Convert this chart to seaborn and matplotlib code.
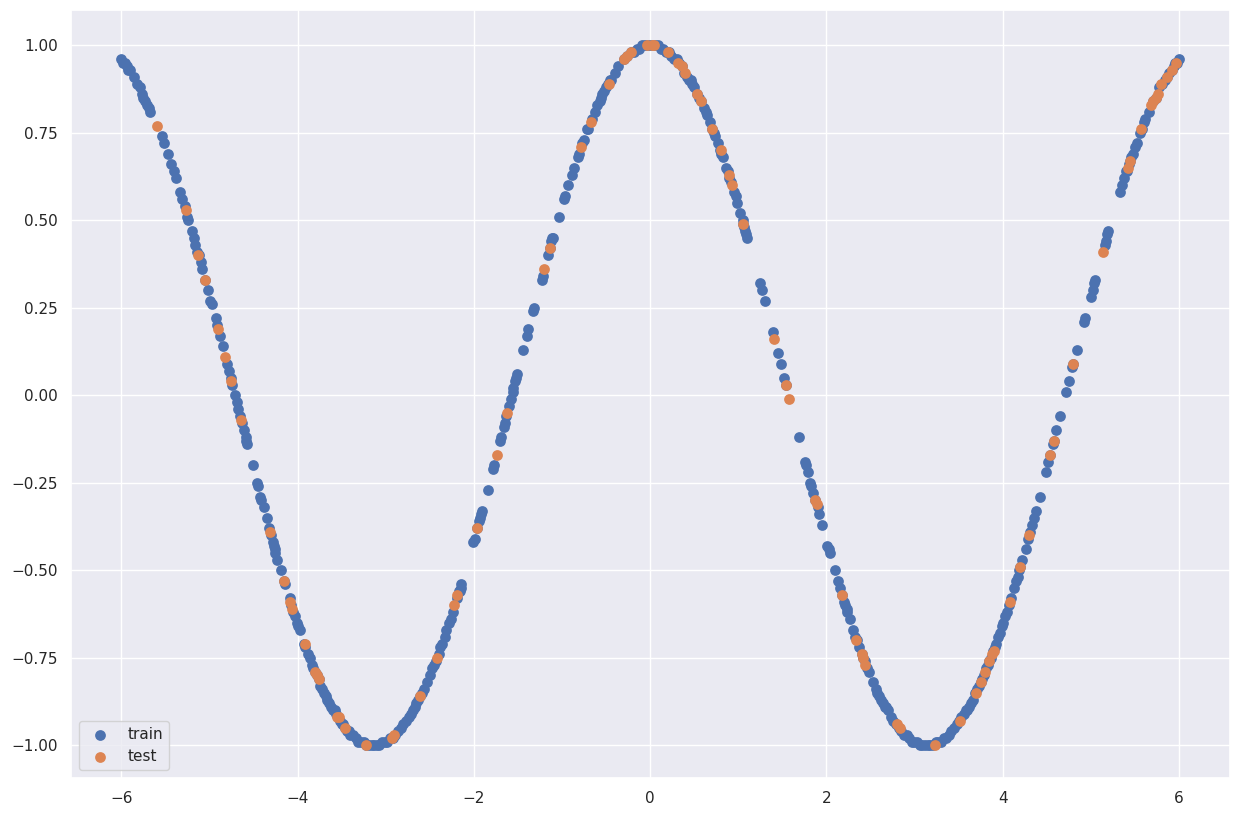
import matplotlib
matplotlib.use("Agg")
import matplotlib.pyplot as plt
import seaborn as sns
import pandas as pd

train_x = [
    -6.00, -5.98, -5.96, -5.94, -5.92, -5.90, -5.86, -5.82, -5.79, -5.77, -5.75, -5.73, -5.71, -5.69, -5.67,
    -5.54, -5.51, -5.47, -5.44, -5.40, -5.38, -5.33, -5.31, -5.28, -5.25, -5.24, -5.20, -5.18, -5.16, -5.14,
    -5.12, -5.10, -5.08, -5.05, -5.02, -4.99, -4.97, -4.93, -4.91, -4.88, -4.85, -4.80, -4.78, -4.76, -4.74,
    -4.71, -4.69, -4.67, -4.65, -4.63, -4.61, -4.59, -4.58, -4.57, -4.51, -4.46, -4.45, -4.42, -4.41, -4.38,
    -4.35, -4.32, -4.30, -4.28, -4.27, -4.26, -4.25, -4.23, -4.19, -4.15, -4.14, -4.09, -4.07, -4.05, -4.03,
    -4.01, -3.99, -3.97, -3.93, -3.91, -3.88, -3.86, -3.84, -3.82, -3.80, -3.78, -3.76, -3.74, -3.72, -3.70,
    -3.68, -3.66, -3.64, -3.62, -3.60, -3.58, -3.56, -3.54, -3.52, -3.50, -3.48, -3.46, -3.44, -3.42, -3.40,
    -3.37, -3.34, -3.31, -3.28, -3.25, -3.22, -3.19, -3.16, -3.13, -3.10, -3.07, -3.04, -3.01, -2.98, -2.95,
    -2.92, -2.89, -2.86, -2.83, -2.80, -2.77, -2.74, -2.71, -2.69, -2.67, -2.65, -2.63, -2.61, -2.59, -2.56,
    -2.53, -2.50, -2.47, -2.45, -2.43, -2.40, -2.38, -2.36, -2.33, -2.31, -2.28, -2.26, -2.24, -2.19, -2.17,
    -2.16, -2.15, -2.14,
    -2.01, -1.99, -1.96, -1.94, -1.93, -1.92, -1.91, -1.84, -1.78, -1.77, -1.70, -1.69, -1.66, -1.65, -1.63,
    -1.60, -1.58, -1.56, -1.55, -1.53, -1.52, -1.51, -1.44, -1.40, -1.38, -1.33, -1.32, -1.23, -1.22, -1.16,
    -1.14, -1.12, -1.11, -1.10, -1.03, -0.98, -0.97, -0.93, -0.89, -0.86, -0.82, -0.81, -0.77, -0.75, -0.71,
    -0.70, -0.66, -0.62, -0.60, -0.57, -0.56, -0.54, -0.52, -0.50, -0.48, -0.46, -0.44, -0.40, -0.36, -0.30,
    -0.26, -0.22, -0.18, -0.15, -0.12, -0.09, -0.06, -0.03, 0.00, 0.03, 0.06, 0.09, 0.12, 0.15, 0.18,
    0.21, 0.24, 0.27, 0.30, 0.33, 0.36, 0.39, 0.42, 0.44, 0.46, 0.48, 0.50, 0.53, 0.56, 0.58,
    0.61, 0.63, 0.65, 0.68, 0.70, 0.72, 0.74, 0.77, 0.79, 0.81, 0.83, 0.86, 0.88, 0.90, 0.92,
    0.95, 0.97, 0.99, 1.02, 1.05, 1.06, 1.07, 1.08, 1.09, 1.10,
    1.25, 1.27, 1.30, 1.39, 1.45, 1.48, 1.52, 1.54,
    1.69, 1.76, 1.77, 1.79, 1.82, 1.83, 1.85, 1.87, 1.90, 1.92, 1.95, 2.01, 2.03, 2.04, 2.10,
    2.13, 2.15, 2.18, 2.20, 2.21, 2.23, 2.24, 2.27, 2.30, 2.33, 2.35, 2.37, 2.40, 2.42, 2.44,
    2.46, 2.48, 2.53, 2.56, 2.58, 2.60, 2.62, 2.64, 2.66, 2.68, 2.70, 2.73, 2.76, 2.79, 2.82,
    2.85, 2.88, 2.91, 2.94, 2.97, 3.00, 3.03, 3.06, 3.09, 3.12, 3.15, 3.18, 3.21, 3.24, 3.27,
    3.30, 3.33, 3.36, 3.39, 3.42, 3.45, 3.48, 3.51, 3.53, 3.56, 3.58, 3.60, 3.62, 3.64, 3.66,
    3.69, 3.71, 3.73, 3.75, 3.77, 3.79, 3.81, 3.83, 3.85, 3.87, 3.89, 3.91, 3.93, 3.95, 3.97,
    3.99, 4.01, 4.03, 4.05, 4.07, 4.09, 4.13, 4.15, 4.17, 4.19, 4.20, 4.22, 4.26, 4.29, 4.31,
    4.33, 4.36, 4.38, 4.42, 4.49, 4.52, 4.54, 4.57, 4.58, 4.61, 4.65, 4.72, 4.75, 4.79, 4.80,
    4.84, 4.92, 4.93, 5.00, 5.02, 5.04, 5.05, 5.16, 5.17, 5.19, 5.20,
    5.33, 5.36, 5.38, 5.40, 5.41, 5.43, 5.45, 5.46, 5.48, 5.50, 5.52, 5.56, 5.58, 5.60, 5.62,
    5.66, 5.71, 5.74, 5.78, 5.81, 5.84, 5.86, 5.89, 5.92, 5.94, 5.96, 5.98, 6.00,
]
train_y = [
    0.96, 0.95, 0.95, 0.94, 0.93, 0.93, 0.91, 0.89, 0.88, 0.86, 0.85, 0.84, 0.83, 0.82, 0.81,
    0.74, 0.72, 0.69, 0.66, 0.64, 0.62, 0.58, 0.56, 0.54, 0.51, 0.50, 0.47, 0.45, 0.43, 0.41,
    0.40, 0.38, 0.36, 0.33, 0.30, 0.27, 0.26, 0.22, 0.20, 0.17, 0.14, 0.09, 0.07, 0.05, 0.03,
    0.00, -0.02, -0.04, -0.06, -0.08, -0.10, -0.12, -0.13, -0.14, -0.20, -0.25, -0.26, -0.29, -0.30, -0.32,
    -0.35, -0.38, -0.40, -0.42, -0.43, -0.44, -0.45, -0.47, -0.50, -0.53, -0.54, -0.58, -0.60, -0.62, -0.63,
    -0.65, -0.66, -0.67, -0.71, -0.72, -0.74, -0.75, -0.77, -0.78, -0.79, -0.80, -0.81, -0.83, -0.84, -0.85,
    -0.86, -0.87, -0.88, -0.89, -0.90, -0.90, -0.91, -0.92, -0.93, -0.94, -0.94, -0.95, -0.96, -0.96, -0.97,
    -0.97, -0.98, -0.99, -0.99, -0.99, -1.00, -1.00, -1.00, -1.00, -1.00, -1.00, -0.99, -0.99, -0.99, -0.98,
    -0.98, -0.97, -0.96, -0.95, -0.94, -0.93, -0.92, -0.91, -0.90, -0.89, -0.88, -0.87, -0.86, -0.85, -0.84,
    -0.82, -0.80, -0.78, -0.77, -0.76, -0.74, -0.72, -0.71, -0.69, -0.67, -0.65, -0.64, -0.62, -0.58, -0.56,
    -0.56, -0.55, -0.54,
    -0.42, -0.41, -0.38, -0.36, -0.35, -0.34, -0.33, -0.27, -0.21, -0.20, -0.13, -0.12, -0.09, -0.08, -0.06,
    -0.03, -0.01, 0.01, 0.02, 0.04, 0.05, 0.06, 0.13, 0.17, 0.19, 0.24, 0.25, 0.33, 0.34, 0.40,
    0.42, 0.44, 0.45, 0.45, 0.51, 0.56, 0.57, 0.60, 0.63, 0.65, 0.68, 0.69, 0.72, 0.73, 0.76,
    0.76, 0.79, 0.81, 0.83, 0.84, 0.85, 0.86, 0.87, 0.88, 0.89, 0.90, 0.90, 0.92, 0.94, 0.96,
    0.97, 0.98, 0.98, 0.99, 0.99, 1.00, 1.00, 1.00, 1.00, 1.00, 1.00, 1.00, 0.99, 0.99, 0.98,
    0.98, 0.97, 0.96, 0.96, 0.95, 0.94, 0.92, 0.91, 0.90, 0.90, 0.89, 0.88, 0.86, 0.85, 0.84,
    0.82, 0.81, 0.80, 0.78, 0.76, 0.75, 0.74, 0.72, 0.70, 0.69, 0.68, 0.65, 0.64, 0.62, 0.61,
    0.58, 0.57, 0.55, 0.52, 0.50, 0.49, 0.48, 0.47, 0.46, 0.45,
    0.32, 0.30, 0.27, 0.18, 0.12, 0.09, 0.05, 0.03,
    -0.12, -0.19, -0.20, -0.22, -0.25, -0.26, -0.28, -0.30, -0.32, -0.34, -0.37, -0.43, -0.44, -0.45, -0.50,
    -0.53, -0.55, -0.57, -0.59, -0.60, -0.61, -0.62, -0.64, -0.67, -0.69, -0.70, -0.72, -0.74, -0.75, -0.76,
    -0.78, -0.79, -0.82, -0.84, -0.85, -0.86, -0.87, -0.88, -0.89, -0.89, -0.90, -0.92, -0.93, -0.94, -0.95,
    -0.96, -0.97, -0.97, -0.98, -0.99, -0.99, -0.99, -1.00, -1.00, -1.00, -1.00, -1.00, -1.00, -0.99, -0.99,
    -0.99, -0.98, -0.98, -0.97, -0.96, -0.95, -0.94, -0.93, -0.92, -0.91, -0.90, -0.90, -0.89, -0.88, -0.87,
    -0.85, -0.84, -0.83, -0.82, -0.81, -0.80, -0.78, -0.77, -0.76, -0.75, -0.73, -0.72, -0.71, -0.69, -0.68,
    -0.66, -0.65, -0.63, -0.62, -0.60, -0.58, -0.55, -0.53, -0.52, -0.50, -0.49, -0.47, -0.44, -0.41, -0.39,
    -0.37, -0.35, -0.33, -0.29, -0.22, -0.19, -0.17, -0.14, -0.13, -0.10, -0.06, 0.01, 0.04, 0.08, 0.09,
    0.13, 0.21, 0.22, 0.28, 0.30, 0.32, 0.33, 0.43, 0.44, 0.46, 0.47,
    0.58, 0.60, 0.62, 0.64, 0.64, 0.66, 0.67, 0.68, 0.69, 0.71, 0.72, 0.75, 0.76, 0.78, 0.79,
    0.81, 0.84, 0.85, 0.88, 0.89, 0.90, 0.91, 0.92, 0.93, 0.94, 0.95, 0.95, 0.96,
]

test_x = [
    -5.59, -5.27, -5.13, -5.05, -4.90, -4.82, -4.75, -4.64, -4.31, -4.15, -4.08, -4.06, -3.92, -3.80, -3.78,
    -3.76, -3.55, -3.53, -3.46, -3.22, -2.93, -2.90, -2.61, -2.42, -2.22, -2.19, -1.96, -1.74, -1.62, -1.20,
    -1.14, -0.78, -0.67, -0.47, -0.30, -0.26, -0.22, -0.03, 0.02, 0.05, 0.20, 0.32, 0.36, 0.40, 0.53,
    0.58, 0.70, 0.80, 0.89, 0.93, 1.06, 1.41, 1.54, 1.58, 1.87, 1.89, 2.18, 2.34, 2.40, 2.42,
    2.44, 2.80, 2.84, 3.23, 3.52, 3.70, 3.75, 3.80, 3.85, 3.88, 3.90, 4.08, 4.20, 4.30, 4.54,
    4.58, 4.80, 5.14, 5.42, 5.44, 5.57, 5.68, 5.71, 5.74, 5.76, 5.80, 5.86, 5.92, 5.97,
]
test_y = [
    0.77, 0.53, 0.40, 0.33, 0.19, 0.11, 0.04, -0.07, -0.39, -0.53, -0.59, -0.61, -0.71, -0.79, -0.80,
    -0.81, -0.92, -0.92, -0.95, -1.00, -0.98, -0.97, -0.86, -0.75, -0.60, -0.57, -0.38, -0.17, -0.05, 0.36,
    0.42, 0.71, 0.78, 0.89, 0.96, 0.97, 0.98, 1.00, 1.00, 1.00, 0.98, 0.95, 0.94, 0.92, 0.86,
    0.84, 0.76, 0.70, 0.63, 0.60, 0.49, 0.16, 0.03, -0.01, -0.30, -0.31, -0.57, -0.70, -0.74, -0.75,
    -0.77, -0.94, -0.95, -1.00, -0.93, -0.85, -0.82, -0.79, -0.76, -0.74, -0.73, -0.59, -0.49, -0.40, -0.17,
    -0.13, 0.09, 0.41, 0.65, 0.67, 0.76, 0.83, 0.84, 0.85, 0.86, 0.89, 0.91, 0.93, 0.95,
]

sns.set_theme(style="darkgrid")
palette = sns.color_palette("deep")

train_df = pd.DataFrame({"x": train_x, "y": train_y})
test_df = pd.DataFrame({"x": test_x, "y": test_y})

fig = plt.figure(figsize=(12.42, 8.18), dpi=100)
ax = fig.add_axes([71 / 1242, 40 / 818, 1159 / 1242, 768 / 818])

sns.scatterplot(data=train_df, x="x", y="y", ax=ax, color=palette[0], s=60,
                linewidth=0, label="train")
sns.scatterplot(data=test_df, x="x", y="y", ax=ax, color=palette[1], s=60,
                linewidth=0, label="test")

ax.set_xlabel("")
ax.set_ylabel("")
ax.set_xlim(-6.57, 6.58)
ax.set_ylim(-1.094, 1.1)
ax.legend(loc="lower left")

fig.savefig("out.png", dpi=100)
